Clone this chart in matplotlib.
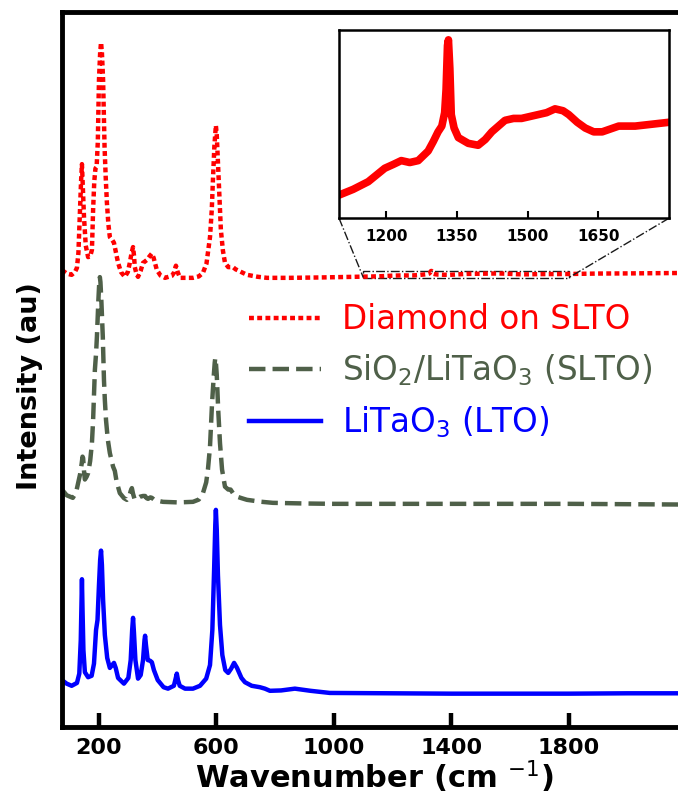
import numpy as np
import matplotlib.pyplot as plt
from mpl_toolkits.axes_grid1.inset_locator import mark_inset

# Raman spectra (wavenumber in cm-1, intensity in au above each baseline)
lto_wn = [74, 90, 107, 125, 133, 138, 140, 142, 144, 147, 152, 163, 175, 183, 190, 195,
          200, 204, 207, 210, 214, 220, 228, 237, 245, 251, 257, 265, 285, 300, 308, 313,
          316, 319, 324, 333, 342, 350, 355, 357, 360, 366, 374, 380, 387, 400, 420, 435,
          455, 461, 465, 469, 475, 493, 520, 544, 565, 578, 586, 592, 596, 598, 601, 605,
          612, 620, 630, 640, 650, 660, 670, 685, 697, 720, 748, 765, 782, 820, 867, 920,
          986, 1200, 1400, 1600, 1800, 2000, 2200]
lto_int = [1.8, 1.3, 1.0, 1.4, 2.7, 7.4, 11.6, 15.9, 11.6, 6.0, 2.9, 2.2, 2.4, 4.1, 8.8, 10.2,
           15.1, 18.6, 19.9, 17.9, 13.0, 8.1, 4.9, 3.5, 3.9, 4.2, 3.5, 2.1, 1.3, 2.1, 4.6, 8.8,
           10.5, 8.5, 4.6, 2.0, 2.5, 4.6, 7.4, 8.0, 6.7, 4.6, 4.5, 4.3, 3.2, 1.8, 0.8, 0.6,
           1.0, 2.0, 2.7, 1.8, 1.0, 0.6, 0.6, 1.0, 2.0, 3.9, 8.8, 17.2, 23.5, 25.6, 22.8, 16.5,
           9.5, 5.3, 3.2, 2.8, 3.4, 4.2, 3.5, 2.1, 1.5, 1.0, 0.8, 0.6, 0.3, 0.35, 0.6, 0.3,
           0.0, -0.05, -0.1, -0.1, -0.1, -0.05, -0.05]

slto_wn = [74, 90, 111, 122, 129, 136, 141, 144, 146, 149, 152, 158, 163, 170, 176, 180,
           186, 190, 193, 198, 201, 203, 205, 208, 213, 217, 220, 224, 230, 237, 248, 254,
           260, 271, 285, 295, 303, 308, 312, 316, 322, 332, 340, 350, 357, 362, 367, 375,
           380, 390, 418, 470, 520, 540, 554, 565, 571, 578, 585, 591, 594, 596, 598, 601,
           606, 612, 619, 629, 640, 648, 656, 670, 685, 704, 750, 792, 900, 1000, 1400, 1800,
           2200]
slto_int = [2.0, 1.2, 0.84, 1.6, 2.9, 4.2, 5.6, 6.6, 6.4, 4.6, 3.4, 3.8, 4.3, 6.0, 8.5, 11.7,
            18.7, 21.0, 23.4, 28.5, 31.0, 31.7, 31.0, 28.5, 23.4, 17.3, 14.5, 11.7, 9.0, 7.1, 5.2, 4.6,
            3.1, 1.5, 0.8, 0.56, 1.0, 1.8, 2.2, 1.4, 0.56, 0.8, 1.0, 1.1, 1.1, 0.8, 0.7, 0.9,
            0.84, 0.5, 0.28, 0.2, 0.28, 0.6, 1.5, 3.0, 4.8, 8.0, 14.1, 18.0, 19.7, 20.4, 19.8, 18.0,
            13.1, 8.5, 4.8, 2.4, 2.0, 2.0, 1.5, 1.0, 0.8, 0.56, 0.3, 0.14, 0.05, 0.0, 0.0, 0.0,
            -0.1]

dia_wn = [74, 90, 107, 118, 125, 130, 135, 139, 142, 145, 149, 155, 163, 170, 176, 180,
          184, 188, 192, 196, 200, 204, 207, 210, 214, 219, 223, 227, 232, 237, 245, 251,
          258, 265, 275, 288, 298, 305, 311, 316, 319, 322, 328, 333, 342, 350, 357, 363,
          372, 380, 386, 397, 410, 425, 448, 455, 462, 468, 476, 500, 520, 540, 554, 566,
          578, 584, 588, 593, 598, 601, 605, 610, 615, 622, 629, 640, 650, 656, 665, 680,
          704, 740, 772, 850, 950, 1050,
          1100, 1130, 1162, 1197, 1215, 1232, 1250, 1268, 1289, 1300, 1310, 1318, 1324, 1327,
          1330, 1332, 1335, 1338, 1344, 1353, 1374, 1395, 1410, 1424, 1452, 1470, 1487, 1505,
          1523, 1540, 1558, 1575, 1587, 1605, 1622, 1640, 1658, 1693, 1728, 1764, 1800,
          1900, 2000, 2100, 2200]
dia_int = [1.1, 0.6, 0.42, 0.8, 1.4, 3.5, 9.1, 13.5, 15.9, 12.8, 8.5, 4.5, 2.9, 3.0, 3.9, 9.5,
           13.5, 15.3, 15.5, 19.0, 27.7, 31.5, 32.9, 31.5, 27.7, 18.3, 14.0, 10.5, 7.5, 5.7, 5.3, 4.9,
           3.5, 2.1, 0.8, 0.14, 0.8, 2.1, 3.5, 4.3, 3.2, 1.5, 0.5, 0.14, 1.0, 2.1, 2.3, 2.5,
           3.0, 3.4, 2.8, 1.1, 0.3, 0.0, 0.28, 0.7, 1.7, 0.8, 0.0, 0.0, 0.0, 0.2, 0.7, 2.0,
           5.7, 9.5, 13.7, 18.5, 21.3, 20.0, 16.1, 11.0, 6.7, 3.8, 2.1, 1.5, 1.5, 1.5, 1.2, 0.9,
           0.42, 0.15, 0.0, 0.0, 0.05, 0.12,
           0.16, 0.19, 0.23, 0.30, 0.32, 0.34, 0.33, 0.34, 0.39, 0.44, 0.49, 0.52, 0.59, 0.71,
           0.94, 0.97, 0.82, 0.58, 0.51, 0.46, 0.43, 0.42, 0.45, 0.49, 0.55, 0.56, 0.56, 0.57,
           0.58, 0.59, 0.61, 0.60, 0.58, 0.54, 0.51, 0.49, 0.49, 0.52, 0.52, 0.53, 0.54,
           0.60, 0.62, 0.66, 0.68]

labels = ['Diamond on SLTO', 'SiO$_2$/LiTaO$_3$ (SLTO)', 'LiTaO$_3$ (LTO)']
colors = ['red', '#4f6049', 'blue']

# vertical offsets used to stack the spectra
off_lto = 4.76
off_slto = 31.2
off_dia = 62.8

fig = plt.figure(figsize=(6.78, 7.96), dpi=100)
ax = fig.add_axes([0.0914, 0.0867, 0.921, 0.8985])

ax.plot(dia_wn, np.array(dia_int) + off_dia, color=colors[0], lw=3.2,
        linestyle=(0, (1.1, 0.75)), label=labels[0])
ax.plot(slto_wn, np.array(slto_int) + off_slto, color=colors[1], lw=3.2,
        linestyle='--', label=labels[1])
ax.plot(lto_wn, np.array(lto_int) + off_lto, color=colors[2], lw=3.2,
        linestyle='-', label=labels[2])

ax.set_xlim(74, 2200)
ax.set_ylim(0, 100)
ax.set_yticks([])
ax.set_xticks([200, 600, 1000, 1400, 1800])
ax.tick_params(axis='x', direction='in', length=10, width=3.2, labelsize=16, pad=8)
for lab in ax.get_xticklabels():
    lab.set_fontweight('bold')
for sp in ax.spines.values():
    sp.set_linewidth(3.5)

ax.set_xlabel('Wavenumber (cm $^{-1}$)', fontsize=22, fontweight='bold', labelpad=0)
ax.set_ylabel('Intensity (au)', fontsize=19.5, fontweight='bold')
ax.yaxis.set_label_coords(-0.03, 0.476)

leg = ax.legend(loc='center left', bbox_to_anchor=(0.343, 0.533),
                bbox_transform=fig.transFigure, frameon=False, fontsize=23.5,
                handlelength=2.2, handletextpad=0.65, labelspacing=0.5,
                borderpad=0, labelcolor='linecolor')

# inset zoom on the diamond peak
axins = fig.add_axes([0.5, 0.726, 0.487, 0.236])
axins.plot(dia_wn, np.array(dia_int) + off_dia, color='red', lw=5.5)
axins.set_xlim(1100, 1800)
axins.set_ylim(off_dia + 0.04, off_dia + 1.02)
axins.set_yticks([])
axins.set_xticks([1200, 1350, 1500, 1650])
axins.tick_params(axis='x', direction='in', length=5, width=1.5, labelsize=11, pad=8)
for lab in axins.get_xticklabels():
    lab.set_fontweight('bold')
for sp in axins.spines.values():
    sp.set_linewidth(1.8)

mark_inset(ax, axins, loc1=3, loc2=4, fc='none', ec='0.1', ls='-.', lw=1)

fig.savefig('out.png', dpi=100)
